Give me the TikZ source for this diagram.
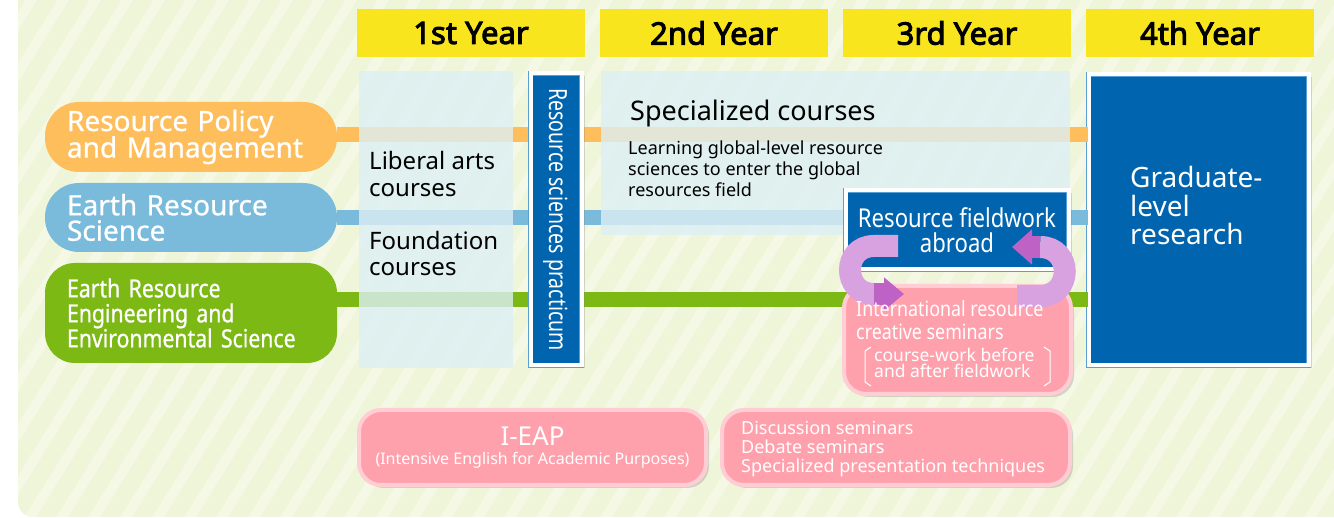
\documentclass[tikz,border=0pt]{standalone}
\usepackage{fontspec}
\setmainfont{Noto Sans}
\newfontfamily\narrowfont[FakeStretch=0.85]{Noto Sans}
\newfontfamily\narrowpillfont[FakeStretch=0.85, FakeBold=0.8]{Noto Sans}
\newfontfamily\pillfont[FakeBold=0.8]{Noto Sans}
\newfontfamily\tallfont[FakeStretch=0.78]{Noto Sans}
\newfontfamily\yearfont[FakeBold=3]{Noto Sans}
\newcommand{\snuglines}{\lineskiplimit=-50pt\lineskip=0pt\relax}
\usetikzlibrary{arrows.meta, positioning, shadows, calc}

\definecolor{bgcream}{HTML}{EFF5D9}
\definecolor{bgstripe}{HTML}{F4F8E5}
\definecolor{yearyellow}{HTML}{F8E51E}
\definecolor{panelblue}{HTML}{DDEFF5}
\definecolor{deepblue}{HTML}{0065AE}
\definecolor{edgeblue}{HTML}{5A9FD4}
\definecolor{trackorange}{HTML}{FDBE5B}
\definecolor{tracksky}{HTML}{7ABBDB}
\definecolor{trackgreen}{HTML}{7CB915}
\definecolor{seminarpink}{HTML}{FFA1AC}
\definecolor{seminaredge}{HTML}{FFCDD3}
\definecolor{looplight}{HTML}{D8A2E0}
\definecolor{loopdark}{HTML}{BF62C6}

\tikzset{
  yearbox/.style={fill=yearyellow, minimum width=228pt, minimum height=48pt,
    inner sep=0pt, font=\yearfont\fontsize{31}{31}\selectfont},
  trackpill/.style={fill=#1, rounded corners=34pt, text width=248pt,
    inner xsep=22pt, inner ysep=0pt, text=white, align=left},
  band/.style={line width=15pt, #1},
  panel/.style={fill=panelblue, fill opacity=0.8, inner sep=0pt},
  bodytext/.style={inner sep=0pt, align=left, anchor=base west},
  bluebox/.style={fill=deepblue, draw=edgeblue, double=white,
    double distance=4pt, line width=0.7pt, inner sep=0pt,
    drop shadow={opacity=0.3, shadow xshift=3pt, shadow yshift=-3pt}},
  pinkbox/.style={fill=seminarpink, draw=seminaredge, line width=4pt,
    rounded corners=22pt, inner sep=0pt, text=white,
    drop shadow={opacity=0.3, shadow xshift=3pt, shadow yshift=-3pt}},
  loopbody/.style={line width=22pt, #1},
  bracket/.style={white, line width=1pt},
}

\begin{document}
\begin{tikzpicture}[x=1pt, y=-1pt]
    \useasboundingbox (0,0) rectangle (1334,518);
    % --- Background with stripes ---
    \begin{scope}
      \clip[rounded corners=15pt] (18,-30) rectangle (1360,517);
      \fill[bgcream] (18,-30) rectangle (1360,517);
      \foreach \s in {-400,-368,...,1400}
        \draw[bgstripe, line width=10pt] (\s,540) -- (\s+360,-40);
    \end{scope}
    % --- Year headers ---
    \node[yearbox] (year1) at (471,33) {1st Year};
    \node[yearbox] (year2) at (714,33) {2nd Year};
    \node[yearbox] (year3) at (957,33) {3rd Year};
    \node[yearbox] (year4) at (1200,33) {4th Year};
    % --- Tracks ---
    \node[trackpill=trackorange, minimum height=70pt,
      font=\pillfont\fontsize{28}{26.5}\selectfont\snuglines] (policy) at (191,137)
      {Resource Policy\\and Management};
    \node[trackpill=tracksky, minimum height=69pt,
      font=\pillfont\fontsize{28}{25.5}\selectfont\snuglines] (earthsci) at (191,217.5)
      {Earth Resource\\Science};
    \node[trackpill=trackgreen, minimum height=100pt, rounded corners=30pt,
      font=\narrowpillfont\fontsize{25}{25}\selectfont\snuglines] (engineering) at (191,313)
      {Earth Resource\\Engineering and\\Environmental Science};
    % Graduate box first, bands run up to it
    \node[bluebox, minimum width=220pt, minimum height=291pt] (grad) at (1198.5,220) {};
    \draw[band=trackorange] ([yshift=2.5pt]policy.east) -- ([yshift=2.5pt]policy.east -| grad.west);
    \draw[band=tracksky] (earthsci.east) -- (earthsci.east -| grad.west);
    \draw[band=trackgreen] ([yshift=13.5pt]engineering.east) -- ([yshift=13.5pt]engineering.east -| grad.west);
    \node[bodytext, text=white, font=\fontsize{28}{28.5}\selectfont\snuglines] (gradtext)
      at (1130,245) {Graduate-\\level\\research};
    % --- Course panels ---
    \node[panel, minimum width=154pt, minimum height=297pt] (firstpanel) at (436,219.5) {};
    \node[panel, minimum width=469pt, minimum height=164pt] (specpanel) at (835.5,153) {};
    \node[bodytext, font=\fontsize{24}{27}\selectfont\snuglines] (liberal) at (369,197) {Liberal arts\\courses};
    \node[bodytext, font=\fontsize{24}{26}\selectfont\snuglines] (foundation) at (369,276) {Foundation\\courses};
    \node[bodytext, font=\fontsize{27}{27}\selectfont] (specialized) at (630,121) {Specialized courses};
    \node[bodytext, font=\fontsize{18}{21}\selectfont\snuglines] (learning) at (628,197)
      {Learning global-level resource\\sciences to enter the global\\resources field};
    % --- Practicum ---
    \node[bluebox, minimum width=51pt, minimum height=292pt] (practicum) at (556,219.5) {};
    \node[rotate=-90, text=white, inner sep=0pt, font=\tallfont\fontsize{25}{25}\selectfont]
      (practicumlabel) at (practicum.center) {Resource sciences practicum};
    % --- Fieldwork and seminars ---
    \node[pinkbox, minimum width=227pt, minimum height=108pt] (seminar) at (957.5,340) {};
    \node[bodytext, text=white, font=\fontsize{17.5}{16}\selectfont\snuglines] (semnote)
      at (874,378) {course-work before\\and after fieldwork};
    \draw[bracket] (871,347) -- (865,351) -- (865,382) -- (871,386);
    \draw[bracket] (1044,347) -- (1050,351) -- (1050,382) -- (1044,386);
    \node[bluebox, minimum width=223pt, minimum height=79pt, text=white, align=center,
      font=\narrowfont\fontsize{26}{25}\selectfont\snuglines] (fieldwork) at (957,230)
      {Resource fieldwork\\abroad};
    % Loop arrows
    \coordinate (fwout) at (898,246);
    \coordinate (semin) at (904,294);
    \coordinate (semout) at (1017,296);
    \coordinate (fwin) at (1012,247);
    \draw[loopbody=looplight] (fwout) -- (874,246)
      .. controls (842,246) and (842,294) .. (874,294);
    \draw[loopbody=loopdark, -{Triangle[length=20pt, width=32pt]}] (874,294) -- (semin);
    \draw[loopbody=looplight] (semout) -- (1040,296)
      .. controls (1073,296) and (1073,247) .. (1040,247);
    \draw[loopbody=loopdark, -{Triangle[length=20pt, width=34pt]}] (1040,247) -- (fwin);
    \node[bodytext, text=white, font=\narrowfont\fontsize{21}{23}\selectfont\snuglines] (semtitle)
      at (856,340) {International resource\\creative seminars};
    % --- English programmes ---
    \node[pinkbox, minimum width=347pt, minimum height=75pt] (ieap) at (532.5,447.5) {};
    \node[inner sep=0pt, anchor=base, align=center, text=white,
      font=\fontsize{16}{20}\selectfont\snuglines] (ieaptext) at (532.5,465)
      {{\fontsize{26}{20}\selectfont I-EAP}\\(Intensive English for Academic Purposes)};
    \node[pinkbox, minimum width=348pt, minimum height=75pt] (discussion) at (896,447.5) {};
    \node[bodytext, text=white, font=\fontsize{18}{19}\selectfont\snuglines] (discussiontext)
      at (741,473) {Discussion seminars\\Debate seminars\\Specialized presentation techniques};
\end{tikzpicture}
\end{document}
